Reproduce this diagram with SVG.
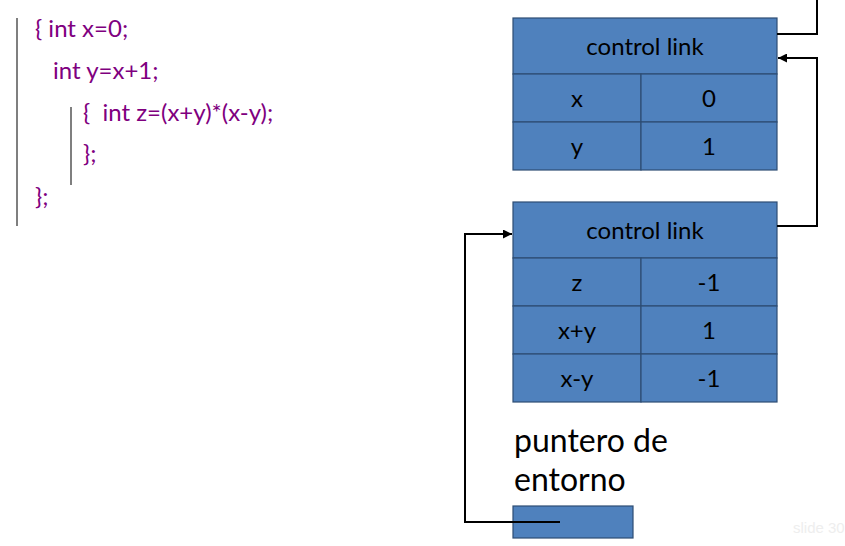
<svg xmlns="http://www.w3.org/2000/svg" width="845" height="546" viewBox="0 0 845 546">
<style>
.code{font-family:Lato,"Open Sans","Liberation Sans",sans-serif;font-size:24px;fill:#7F007F}
.bar{stroke:#7F7F7F;stroke-width:2}
.cell{fill:#4F81BD;stroke:#2E4D73;stroke-width:1.2}
.t{font-family:Lato,"Open Sans","Liberation Sans",sans-serif;font-size:24px;fill:#000;text-anchor:middle}
.lbl{font-family:Lato,"Open Sans","Liberation Sans",sans-serif;font-size:32px;fill:#000}
.conn{fill:none;stroke:#000;stroke-width:2}
</style>
<defs>
<marker id="ah" viewBox="0 0 10 10" refX="10" refY="5" markerWidth="10" markerHeight="9" orient="auto" markerUnits="userSpaceOnUse">
<path d="M0,0 L10,5 L0,10 z" fill="#000"/>
</marker>
</defs>
<rect width="845" height="546" fill="#fff"/>
<g id="code">
<line class="bar" x1="17" y1="18" x2="17" y2="226"/>
<line class="bar" x1="71" y1="107" x2="71" y2="185"/>
<text class="code" x="35" y="37">{ int x=0;</text>
<text class="code" x="53" y="79">int y=x+1;</text>
<text class="code" x="83" y="121" xml:space="preserve">{  int z=(x+y)*(x-y);</text>
<text class="code" x="83" y="162">};</text>
<text class="code" x="35" y="205">};</text>
</g>
<g id="frame1">
<rect class="cell" x="513" y="18" width="264" height="56"/>
<rect class="cell" x="513" y="74" width="128" height="48"/>
<rect class="cell" x="641" y="74" width="136" height="48"/>
<rect class="cell" x="513" y="122" width="128" height="48"/>
<rect class="cell" x="641" y="122" width="136" height="48"/>
<text class="t" x="645" y="55">control link</text>
<text class="t" x="577" y="107">x</text>
<text class="t" x="709" y="107">0</text>
<text class="t" x="577" y="155">y</text>
<text class="t" x="709" y="155">1</text>
</g>
<g id="frame2">
<rect class="cell" x="513" y="202" width="264" height="56"/>
<rect class="cell" x="513" y="258" width="128" height="48"/>
<rect class="cell" x="641" y="258" width="136" height="48"/>
<rect class="cell" x="513" y="306" width="128" height="48"/>
<rect class="cell" x="641" y="306" width="136" height="48"/>
<rect class="cell" x="513" y="354" width="128" height="48"/>
<rect class="cell" x="641" y="354" width="136" height="48"/>
<text class="t" x="645" y="239">control link</text>
<text class="t" x="577" y="291">z</text>
<text class="t" x="709" y="291">-1</text>
<text class="t" x="577" y="339">x+y</text>
<text class="t" x="709" y="339">1</text>
<text class="t" x="577" y="387">x-y</text>
<text class="t" x="709" y="387">-1</text>
</g>
<g id="env">
<text class="lbl" x="514" y="452">puntero de</text>
<text class="lbl" x="514" y="491">entorno</text>
<rect class="cell" x="513" y="506" width="120" height="32"/>
</g>
<g id="connectors">
<polyline class="conn" points="777,34 817,34 817,0"/>
<polyline class="conn" points="777,226 817,226 817,58 778,58" marker-end="url(#ah)"/>
<polyline class="conn" points="560,522 465,522 465,234 512,234" marker-end="url(#ah)"/>
</g>
<text x="793" y="533" font-family="Liberation Sans,Arial,sans-serif" font-size="15" fill="#EEEEEE">slide 30</text>
</svg>
